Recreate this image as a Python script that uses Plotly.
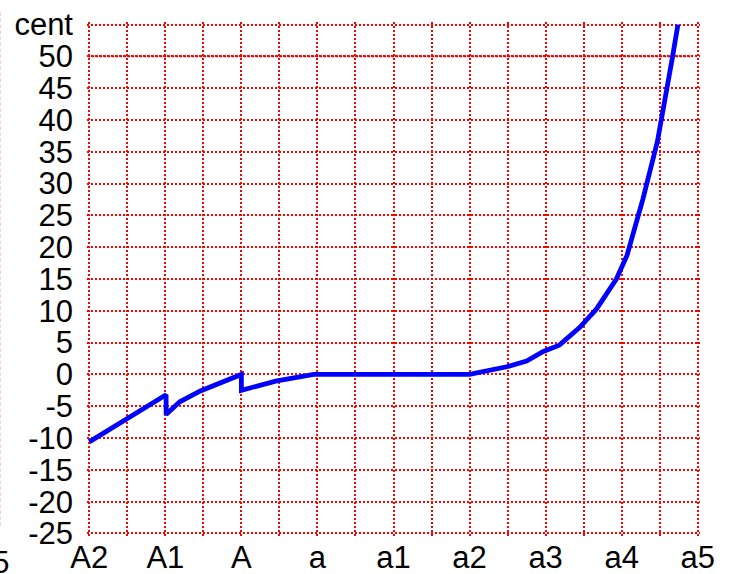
import plotly.graph_objects as go

# x position in octaves above A2 (A2=0, A1=1, A=2, a=3, a1=4, a2=5, a3=6, a4=7, a5=8)
octave_pos = [0.0, 0.45, 1.01, 1.01, 1.19, 1.46, 2.0, 2.0, 2.45, 2.95, 5.0,
              5.49, 5.75, 5.97, 6.18, 6.45, 6.67, 6.93, 7.07, 7.28, 7.47, 7.67, 7.74]
cents = [-10.6, -7.3, -3.2, -6.3, -4.3, -2.6, 0.0, -2.5, -1.05, 0.0, 0.0,
         1.2, 2.1, 3.6, 4.6, 7.4, 10.3, 15.0, 18.7, 27.6, 36.6, 50.0, 55.0]

x_tick_vals = [0, 0.5, 1, 1.5, 2, 2.5, 3, 3.5, 4, 4.5, 5, 5.5, 6, 6.5, 7, 7.5, 8]
x_tick_text = ["A2", "", "A1", "", "A", "", "a", "", "a1", "", "a2", "", "a3", "", "a4", "", "a5"]
y_tick_vals = [-25, -20, -15, -10, -5, 0, 5, 10, 15, 20, 25, 30, 35, 40, 45, 50, 55]
y_tick_text = ["-25", "-20", "-15", "-10", "-5", "0", "5", "10", "15", "20", "25",
               "30", "35", "40", "45", "50", "cent"]

FONT = "Liberation Sans, Arial, sans-serif"
FS = 31

fig = go.Figure()
fig.add_trace(go.Scatter(x=octave_pos, y=cents, mode="lines",
                         line=dict(color="#0000ff", width=4.8), showlegend=False))

# darker reference line at 50
fig.add_shape(type="line", xref="x", yref="y", x0=-0.12, x1=7.94, y0=50, y1=50,
              line=dict(color="#b80000", width=2, dash="2px,2px"), layer="below")
# faint leftover dotted line at the left edge
fig.add_shape(type="line", xref="paper", yref="paper", x0=-0.1415, x1=-0.1415, y0=0.02, y1=1.02,
              line=dict(color="#ffb4b4", width=1, dash="dot"))
fig.add_annotation(xref="paper", yref="paper", x=-0.124, y=-0.014, xanchor="right", yanchor="top",
                   text="a5", showarrow=False, font=dict(family=FONT, size=FS, color="black"))

fig.update_xaxes(range=[-0.03, 8.03], tickvals=x_tick_vals, ticktext=x_tick_text,
                 showgrid=True, gridcolor="#ff0000", griddash="2px,2px", gridwidth=1.5,
                 zeroline=False, showline=False, ticks="", automargin=False,
                 tickfont=dict(family=FONT, size=FS, color="black"), ticklabelstandoff=0)
fig.update_yaxes(range=[-25.4, 55.4], tickvals=y_tick_vals, ticktext=y_tick_text,
                 showgrid=True, gridcolor="#ff0000", griddash="2px,2px", gridwidth=1.5,
                 zeroline=False, showline=False, ticks="", automargin=False,
                 tickfont=dict(family=FONT, size=FS, color="black"), ticklabelstandoff=13)

fig.update_layout(width=738, height=574, margin=dict(l=86.7, r=37.7, t=22.46, b=38.44),
                  paper_bgcolor="white", plot_bgcolor="white")

fig.write_html("out.html", config={"displayModeBar": False},
               post_script="document.body.style.margin='0';")
